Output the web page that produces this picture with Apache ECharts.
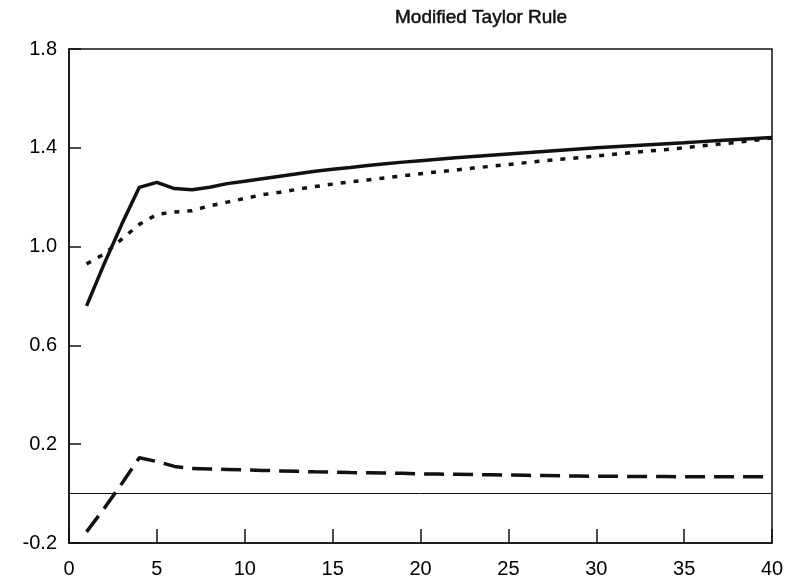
<!DOCTYPE html>
<html><head><meta charset="utf-8">
<script src="https://cdn.jsdelivr.net/npm/echarts@6/dist/echarts.min.js"></script>
<style>html,body{margin:0;padding:0;background:#fff}#c{width:795px;height:586px}</style>
</head><body><div id="c"></div>
<script>
const periods = [1,2,3,4,5,6,7,8,9,10,11,12,13,14,15,16,17,18,19,20,21,22,23,24,25,26,27,28,29,30,31,32,33,34,35,36,37,38,39,40];
const solidVals = [0.76,0.93,1.09,1.24,1.26,1.235,1.23,1.24,1.255,1.265,1.275,1.285,1.295,1.305,1.313,1.32,1.328,1.335,1.342,1.348,1.354,1.36,1.365,1.37,1.375,1.38,1.385,1.39,1.395,1.4,1.404,1.408,1.412,1.416,1.42,1.425,1.43,1.434,1.438,1.442];
const dottedVals = [0.93,0.97,1.03,1.09,1.13,1.14,1.145,1.165,1.18,1.195,1.21,1.22,1.232,1.243,1.253,1.262,1.27,1.278,1.287,1.295,1.303,1.31,1.318,1.325,1.332,1.34,1.347,1.354,1.36,1.367,1.374,1.38,1.387,1.393,1.4,1.408,1.415,1.422,1.43,1.44];
const dashedVals = [-0.155,-0.06,0.04,0.145,0.13,0.11,0.102,0.1,0.098,0.096,0.094,0.092,0.09,0.088,0.087,0.085,0.084,0.083,0.082,0.08,0.079,0.078,0.077,0.076,0.075,0.074,0.073,0.072,0.071,0.07,0.07,0.069,0.069,0.069,0.068,0.068,0.068,0.068,0.068,0.068];
const xTicks = [0,5,10,15,20,25,30,35,40];
const yTicks = [-0.2,0.2,0.6,1.0,1.4,1.8];
const titleText = 'Modified Taylor Rule';

const pairs = v => periods.map((p,i)=>[p,v[i]]);
const chart = echarts.init(document.getElementById('c'));
const font = 'Liberation Sans, Arial, sans-serif';
const xMin = xTicks[0], xMax = xTicks[xTicks.length-1];
const yMin = yTicks[0], yMax = yTicks[yTicks.length-1];
chart.setOption({
  animation:false,
  title:{text:titleText,left:390,top:3,textStyle:{color:'#111',fontFamily:font,fontSize:19,fontWeight:'normal',textBorderColor:'#111',textBorderWidth:0.5}},
  grid:{left:69,right:23,top:49,bottom:43,show:true,borderColor:'#111',borderWidth:1.5,backgroundColor:'transparent'},
  xAxis:{type:'value',min:xMin,max:xMax,interval:5,
    axisLine:{show:true,onZero:false,lineStyle:{color:'#111',width:1.5}},
    axisTick:{show:true,inside:true,length:14,lineStyle:{color:'#111',width:1.5}},
    splitLine:{show:false},
    axisLabel:{color:'#000',fontFamily:font,fontSize:20,margin:16}},
  yAxis:{type:'value',min:yMin,max:yMax,interval:0.4,
    axisLine:{show:true,lineStyle:{color:'#111',width:1.5}},
    axisTick:{show:true,inside:true,length:12,lineStyle:{color:'#111',width:1.5}},
    splitLine:{show:false},
    axisLabel:{color:'#000',fontFamily:font,fontSize:20,margin:12,formatter:v=>v.toFixed(1)}},
  series:[
    {type:'line',data:pairs(solidVals),showSymbol:false,lineStyle:{color:'#111',width:3.5,type:'solid'},
     markLine:{silent:true,symbol:'none',label:{show:false},lineStyle:{color:'#111',width:1,type:'solid'},data:[{yAxis:0}]}},
    {type:'line',data:pairs(dottedVals),showSymbol:false,lineStyle:{color:'#111',width:3.5,type:[5,8]}},
    {type:'line',data:pairs(dashedVals),showSymbol:false,lineStyle:{color:'#111',width:3.5,type:[20,9]}}
  ]
});
</script></body></html>
